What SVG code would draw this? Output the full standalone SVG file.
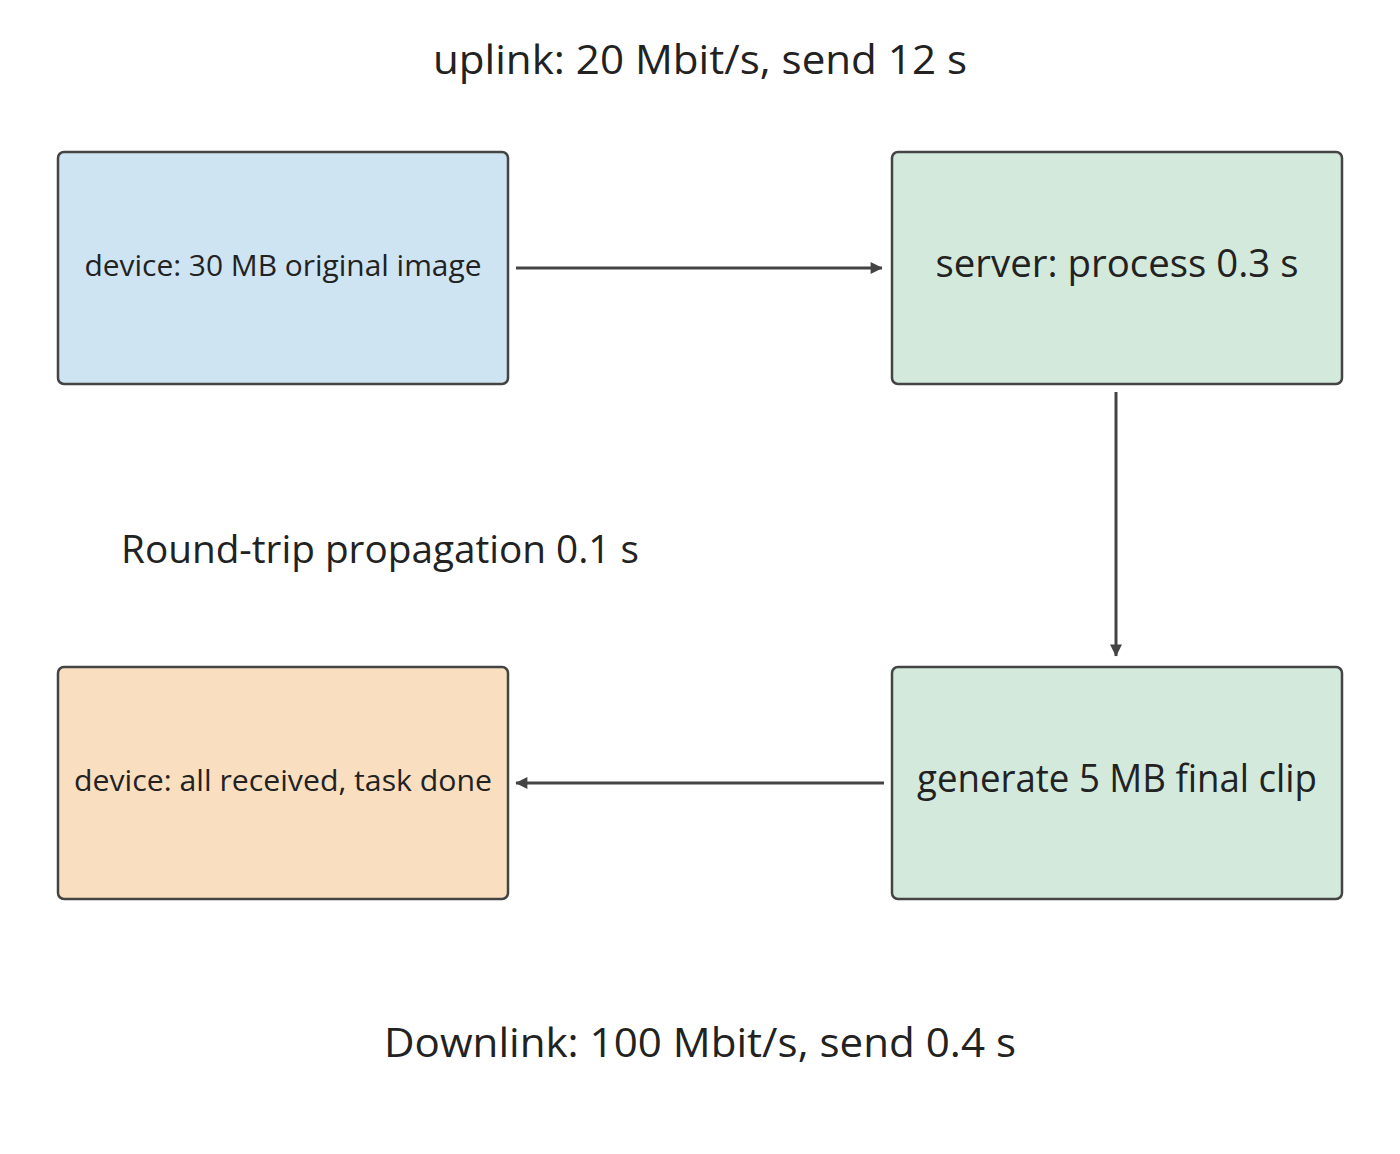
<svg xmlns="http://www.w3.org/2000/svg" width="1400" height="1154" viewBox="0 0 1400 1154">
<style>
.b{stroke:#444;stroke-width:2.5}
text{font-family:"Open Sans","Noto Sans",sans-serif;fill:#222;text-anchor:middle}
.c{stroke:#444;stroke-width:3;fill:none;marker-end:url(#a)}
</style>
<defs><marker id="a" viewBox="0 0 10 10" refX="9" refY="5" markerWidth="6" markerHeight="6" orient="auto" markerUnits="userSpaceOnUse" style="overflow:visible"><path d="M0,0L10,5L0,10z" fill="#444" transform="scale(2)translate(-5,-2.5)"/></marker></defs>
<rect width="1400" height="1154" fill="#fff"/>
<text x="700" y="74" font-size="40" textLength="534" lengthAdjust="spacingAndGlyphs">uplink: 20 Mbit/s, send 12 s</text>
<text x="380" y="563" font-size="38" textLength="518" lengthAdjust="spacingAndGlyphs">Round-trip propagation 0.1 s</text>
<text x="700" y="1057" font-size="40" textLength="632" lengthAdjust="spacingAndGlyphs">Downlink: 100 Mbit/s, send 0.4 s</text>
<g id="n1"><rect class="b" x="58" y="152" width="450" height="232" rx="6" fill="#cfe4f3"/><text x="283" y="276" font-size="30" textLength="397" lengthAdjust="spacingAndGlyphs">device: 30 MB original image</text></g>
<g id="n2"><rect class="b" x="892" y="152" width="450" height="232" rx="6" fill="#d3e9dc"/><text x="1117" y="277" font-size="38" textLength="363" lengthAdjust="spacingAndGlyphs">server: process 0.3 s</text></g>
<g id="n3"><rect class="b" x="892" y="667" width="450" height="232" rx="6" fill="#d3e9dc"/><text x="1117" y="792" font-size="38" textLength="400" lengthAdjust="spacingAndGlyphs">generate 5 MB final clip</text></g>
<g id="n4"><rect class="b" x="58" y="667" width="450" height="232" rx="6" fill="#f9dfc0"/><text x="283" y="791" font-size="30" textLength="418" lengthAdjust="spacingAndGlyphs">device: all received, task done</text></g>
<g id="connectors">
<path class="c" d="M516,268H882"/>
<path class="c" d="M1116,392V656"/>
<path class="c" d="M884,783H516"/>
</g>
</svg>
